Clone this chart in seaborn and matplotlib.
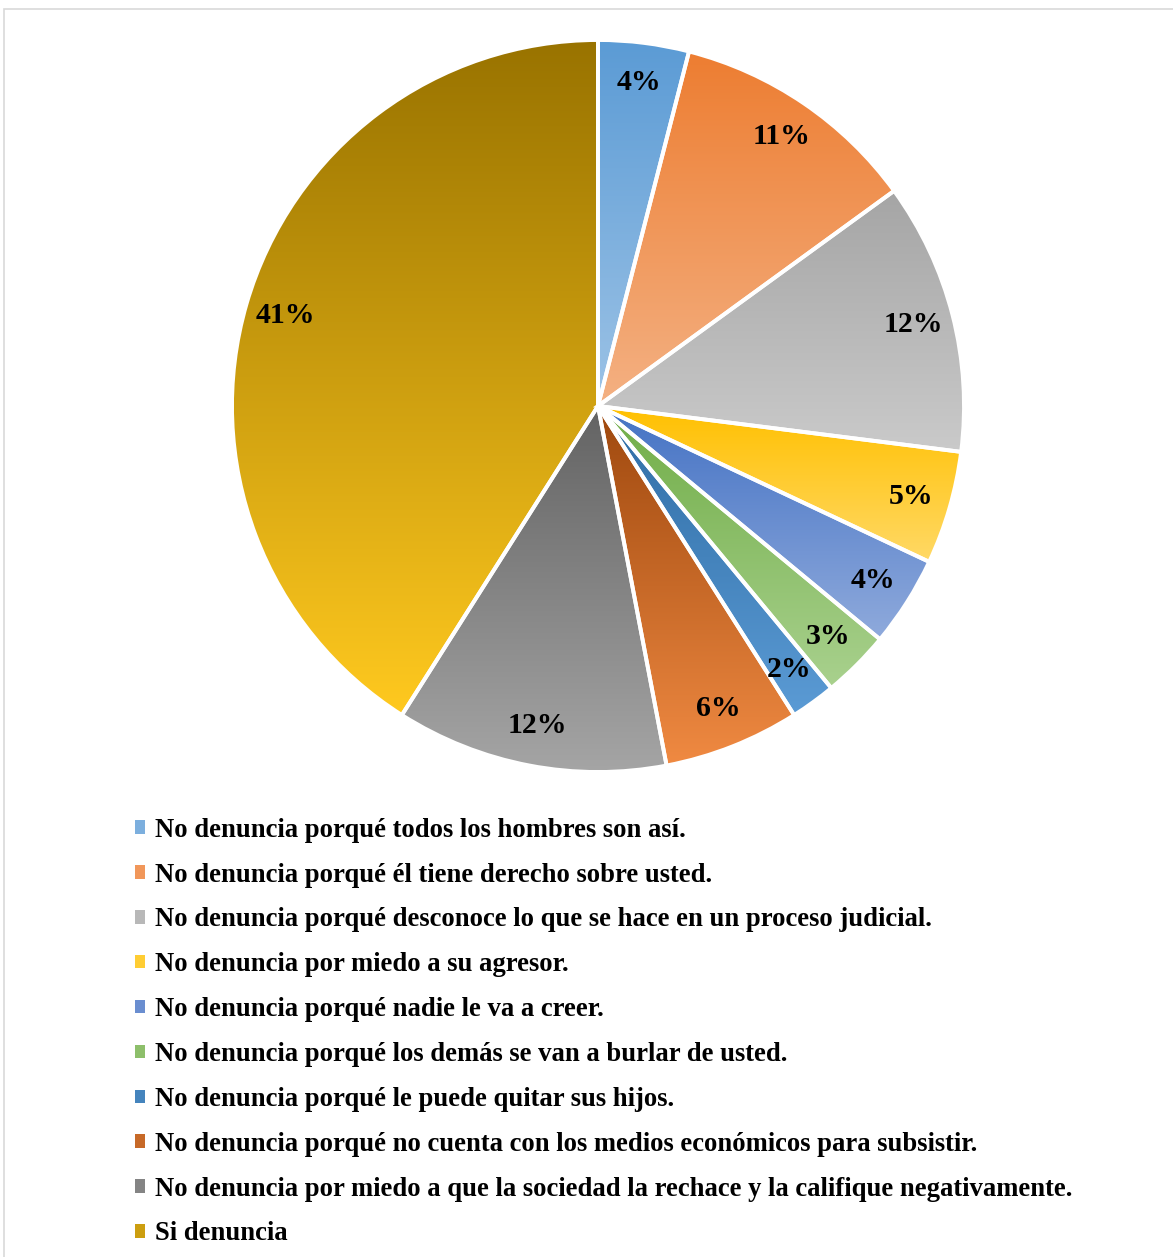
import matplotlib
matplotlib.use('Agg')
import matplotlib.pyplot as plt
import numpy as np
import seaborn as sns
from matplotlib.patches import Patch, Rectangle

labels = [
    'No denuncia porqué todos los hombres son así.',
    'No denuncia porqué él tiene derecho sobre usted.',
    'No denuncia porqué desconoce lo que se hace en un proceso judicial.',
    'No denuncia por miedo a su agresor.',
    'No denuncia porqué nadie le va a creer.',
    'No denuncia porqué los demás se van a burlar de usted.',
    'No denuncia porqué le puede quitar sus hijos.',
    'No denuncia porqué no cuenta con los medios económicos para subsistir.',
    'No denuncia por miedo a que la sociedad la rechace y la califique negativamente.',
    'Si denuncia',
]
values = [4, 11, 12, 5, 4, 3, 2, 6, 12, 41]
top_colors = ['#5B9BD5', '#ED7D31', '#A5A5A5', '#FFC000', '#4472C4',
              '#70AD47', '#2E6CA4', '#9E480E', '#636363', '#997300']
bottom_colors = ['#9DC3E6', '#F4B183', '#CACACA', '#FFD966', '#8FAADC',
                 '#A9D18E', '#5B9BD5', '#F08A42', '#A5A5A5', '#FFC91F']

sns.set_theme(style='white')
plt.rcParams['font.family'] = ['Liberation Serif', 'DejaVu Serif']
plt.rcParams['font.weight'] = 'bold'
plt.rcParams['text.color'] = 'black'

W, H = 1173, 1257
fig = plt.figure(figsize=(W / 100, H / 100), dpi=100)

# frame around the chart area (cut off at right and bottom)
fig.patches.append(Rectangle((4 / W, -0.1), 1.2, 1.1 - 9 / H, transform=fig.transFigure,
                             fill=False, edgecolor='#D9D9D9', linewidth=1.2))

cx, cy, r = 598, H - 406, 366
ax = fig.add_axes([(cx - r) / W, (cy - r) / H, 2 * r / W, 2 * r / H])

wedges, _, autotexts = ax.pie(
    values, startangle=90, counterclock=False, radius=1,
    autopct='%1.0f%%', pctdistance=0.89,
    wedgeprops=dict(edgecolor='white', linewidth=2.8),
    textprops=dict(fontsize=21.5, fontweight='bold', color='black'))

grad = np.linspace(0, 1, 256).reshape(-1, 1)
for w, c0, c1 in zip(wedges, top_colors, bottom_colors):
    bb = w.get_path().get_extents(w.get_patch_transform())
    cmap = sns.blend_palette([c1, c0], as_cmap=True)
    im = ax.imshow(grad, cmap=cmap, origin='lower', aspect='auto',
                   extent=[bb.x0, bb.x1, bb.y0, bb.y1], zorder=1)
    im.set_clip_path(w)
    w.set_facecolor('none')
    w.set_zorder(2)
for t in autotexts:
    t.set_zorder(3)

ax.set_xlim(-1, 1)
ax.set_ylim(-1, 1)
ax.set_aspect('equal')
ax.axis('off')

mid_colors = [sns.blend_palette([a, b], 3)[1] for a, b in zip(top_colors, bottom_colors)]
handles = [Patch(facecolor=c, edgecolor='none') for c in mid_colors]
leg = fig.legend(handles, labels, loc='upper left', bbox_to_anchor=(124 / W, 1 - 807 / H),
                 frameon=False, prop=dict(weight='bold', size=19.2),
                 handlelength=0.4, handleheight=0.4, handletextpad=0.35,
                 labelspacing=0.745, borderaxespad=0)
for t in leg.get_texts():
    t.set_color('black')

fig.savefig('out.png', dpi=100, facecolor='white')
